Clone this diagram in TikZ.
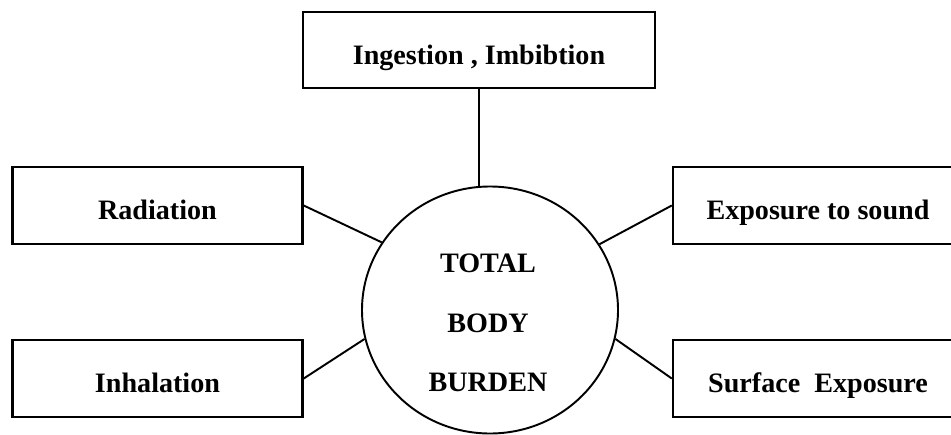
\documentclass[tikz,border=0pt]{standalone}
\usepackage{fontspec}
\setmainfont{Liberation Serif}
\usetikzlibrary{shapes.geometric}

\tikzset{
  box/.style={draw, line width=1.4pt, minimum width=5.8cm, minimum height=1.54cm,
              text height=16pt, text depth=0pt,
              font=\fontsize{16}{19}\selectfont\bfseries},
  conn/.style={draw, line width=1.1pt}
}

\begin{document}
\begin{tikzpicture}
 \useasboundingbox (0,0) rectangle (19.02,8.68);

 % centre
 \node[ellipse, draw, line width=1.1pt, minimum width=5.12cm, minimum height=4.94cm] (body) at (9.80,2.48) {};
 \node[align=center, font=\fontsize{16}{34}\selectfont\bfseries] (burden) at (9.76,2.22) {TOTAL\\BODY\\BURDEN};

 % top box
 \node[box, minimum width=7.04cm, minimum height=1.52cm] (ing) at (9.58,7.68) {Ingestion , Imbibtion};

 % side boxes
 \foreach \nm/\x/\y/\txt in {rad/3.15/4.57/Radiation, inh/3.15/1.11/Inhalation,
                            exp/16.36/4.57/Exposure to sound, surf/16.36/1.11/Surface~ Exposure}
   \node[box] (\nm) at (\x,\y) {\txt};

 % lines
 \path[conn] (ing.south) -- (ing.south |- body.north);
 \foreach \source/\dest in {rad.east/body.148.7, inh.east/body.193.5, exp.west/body.31.8, surf.west/body.-13.5}
   \path[conn] (\source) -- (\dest);

\end{tikzpicture}
\end{document}
